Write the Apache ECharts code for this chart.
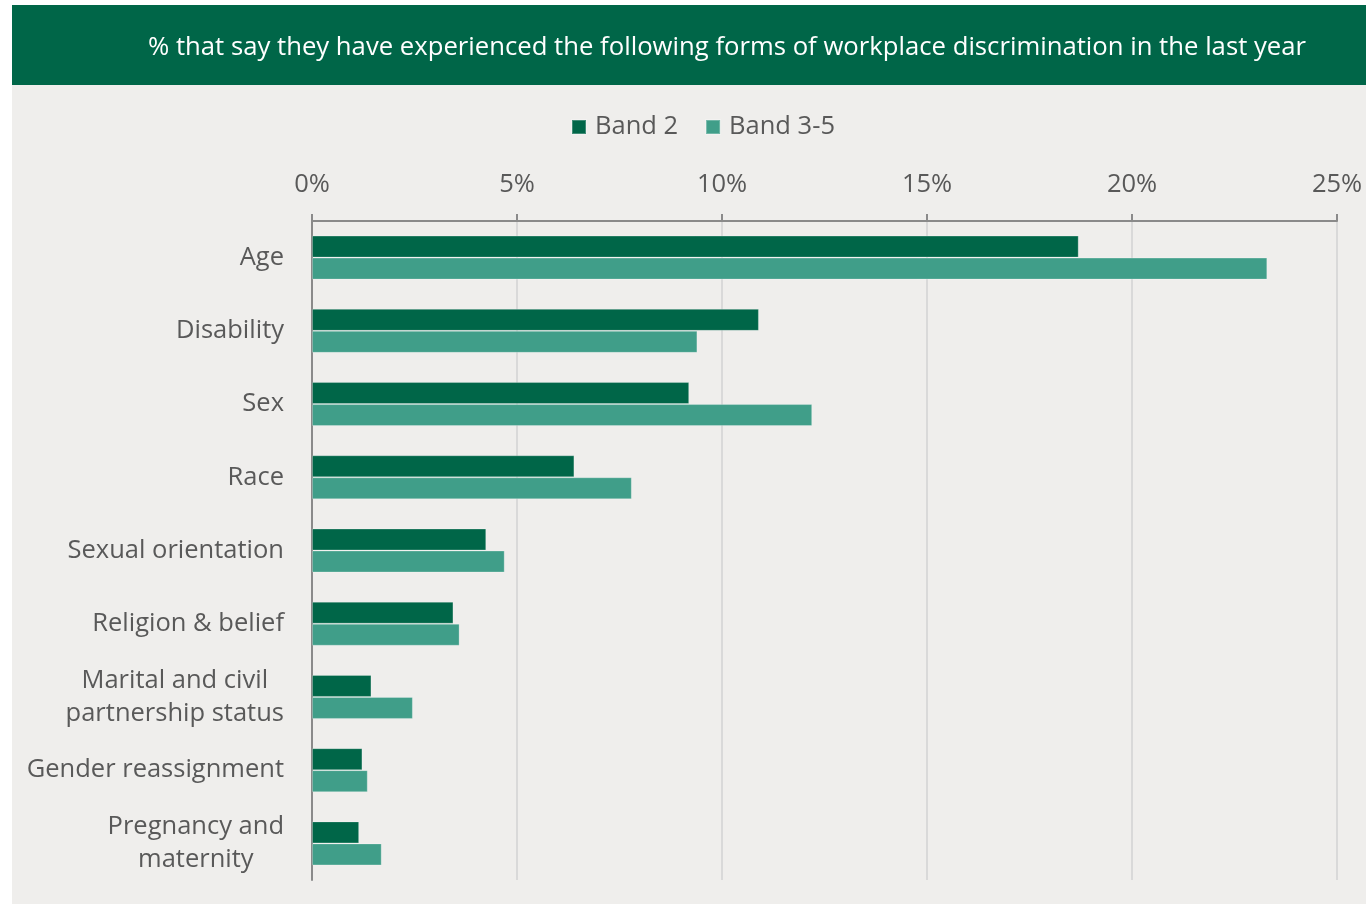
<!DOCTYPE html>
<html>
<head>
<meta charset="utf-8">
<style>
  html, body { margin: 0; padding: 0; background: #ffffff; }
  #chart { width: 1366px; height: 904px; }
</style>
<script src="https://cdn.jsdelivr.net/npm/echarts@6/dist/echarts.min.js"></script>
</head>
<body>
<div id="chart"></div>
<script>
// Discrimination categories, top to bottom
const categories = [
  'Age',
  'Disability',
  'Sex',
  'Race',
  'Sexual orientation',
  'Religion & belief',
  'Marital and civil\npartnership status',
  'Gender reassignment',
  'Pregnancy and\nmaternity'
];

// Percentage reporting each form of discrimination
const band2 = [18.7, 10.9, 9.2, 6.4, 4.25, 3.45, 1.45, 1.23, 1.15];
const band35 = [23.3, 9.4, 12.2, 7.8, 4.7, 3.6, 2.46, 1.36, 1.7];

const seriesNames = ['Band 2', 'Band 3-5'];
const titleText = '% that say they have experienced the following forms of workplace discrimination in the last year';

const FONT = '"Open Sans", "Noto Sans", sans-serif';
const TEXT_GREY = '#595959';
const FS = 25.5;

const chart = echarts.init(document.getElementById('chart'), null, { renderer: 'canvas' });

chart.setOption({
  backgroundColor: '#ffffff',
  animation: false,
  graphic: [
    // Panel background
    { type: 'rect', z: -10, shape: { x: 12, y: 85, width: 1354, height: 819 }, style: { fill: '#efeeec' } },
    // Title banner
    { type: 'rect', z: -9, shape: { x: 12, y: 5, width: 1354, height: 80 }, style: { fill: '#006648' } },
    {
      type: 'text', z: 10, left: 148, top: 35,
      style: { text: titleText, fill: '#ffffff', font: '400 25.7px ' + FONT }
    }
  ],
  legend: {
    data: seriesNames,
    top: 109,
    left: 566,
    itemWidth: 14,
    itemHeight: 14,
    itemGap: 27,
    icon: 'rect',
    textStyle: { color: TEXT_GREY, fontFamily: FONT, fontSize: FS, padding: [0, 0, 0, 4] }
  },
  grid: { left: 312, right: 29, top: 221, bottom: 24, containLabel: false },
  xAxis: {
    type: 'value',
    position: 'top',
    min: 0,
    max: 25,
    interval: 5,
    axisLine: { show: true, lineStyle: { color: '#8a8a8a', width: 2 } },
    axisTick: { show: true, inside: false, length: 7, lineStyle: { color: '#8a8a8a', width: 2 } },
    splitLine: { show: true, lineStyle: { color: '#d9d9d9', width: 2 } },
    axisLabel: {
      formatter: '{value}%',
      color: TEXT_GREY,
      fontFamily: FONT,
      fontSize: FS,
      margin: 23
    }
  },
  yAxis: {
    type: 'category',
    data: categories,
    inverse: true,
    axisLine: { show: true, lineStyle: { color: '#8a8a8a', width: 2 } },
    axisTick: { show: false },
    axisLabel: {
      margin: 28,
      color: TEXT_GREY,
      fontFamily: FONT,
      fontSize: FS,
      lineHeight: 33,
      align: 'right',
      formatter: function (v) {
        return v.split('\n').map(function (s) { return '{c|' + s + '}'; }).join('\n');
      },
      rich: {
        c: { align: 'center', color: TEXT_GREY, fontFamily: FONT, fontSize: FS, lineHeight: 33 }
      }
    }
  },
  series: [
    {
      name: seriesNames[0],
      type: 'bar',
      data: band2,
      barWidth: 22,
      barGap: '0%',
      itemStyle: { color: '#006648', borderColor: 'rgba(255,255,255,0.25)', borderWidth: 1 }
    },
    {
      name: seriesNames[1],
      type: 'bar',
      data: band35,
      barWidth: 22,
      barGap: '0%',
      itemStyle: { color: '#409e89', borderColor: 'rgba(255,255,255,0.25)', borderWidth: 1 }
    }
  ]
});
</script>
</body>
</html>
